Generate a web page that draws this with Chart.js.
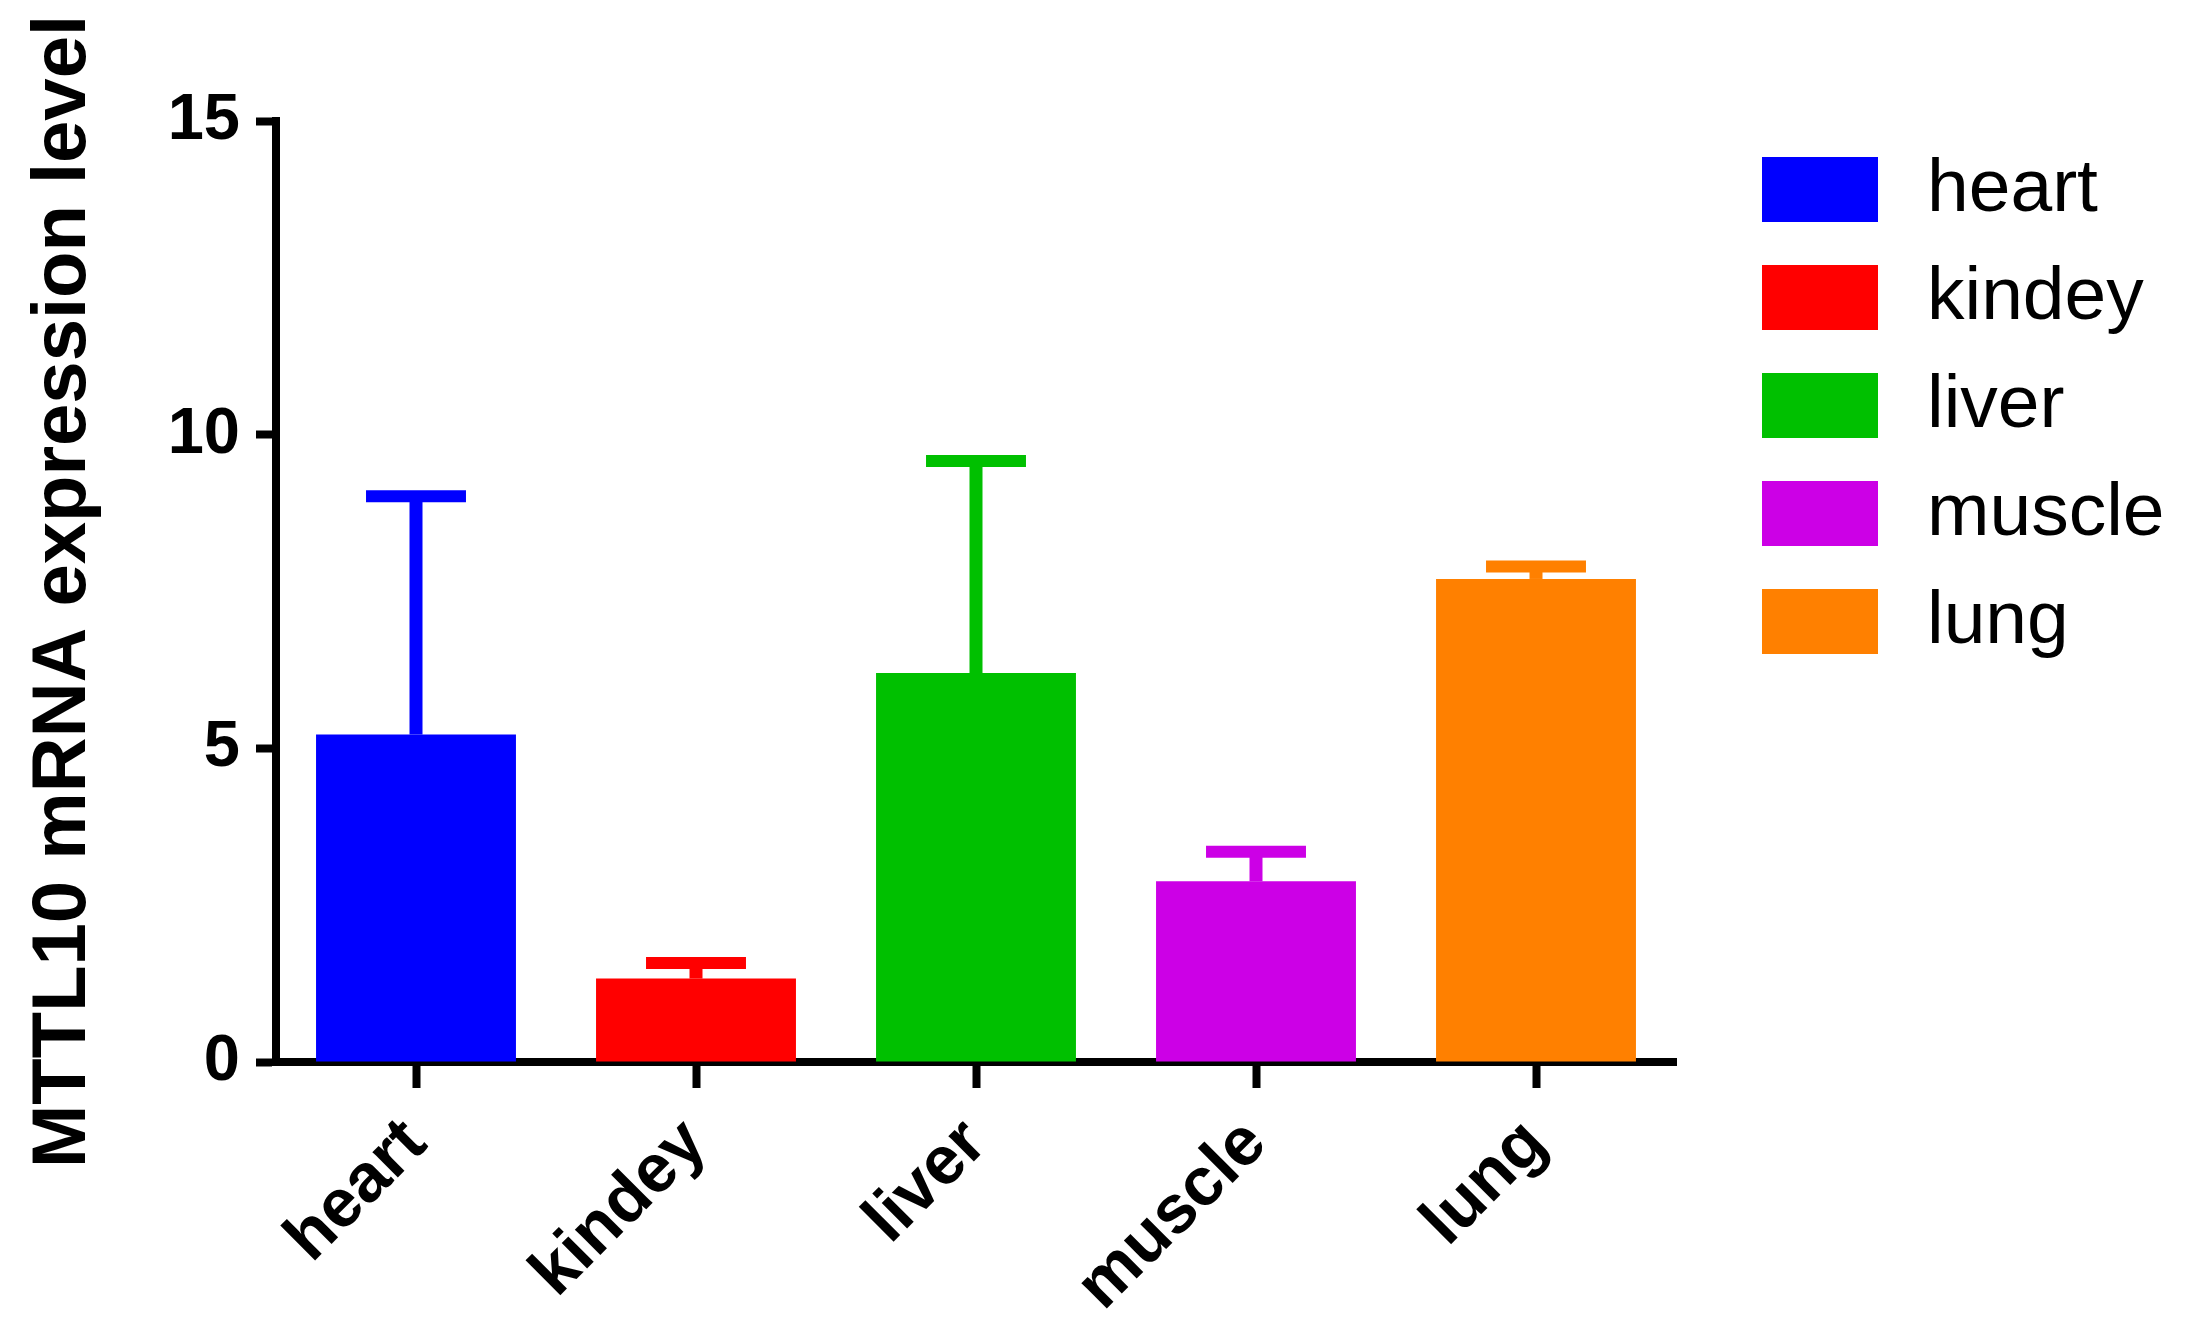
<!DOCTYPE html>
<html>
<head>
<meta charset="utf-8">
<script src="https://cdn.jsdelivr.net/npm/chart.js@4.4.1/dist/chart.umd.min.js"></script>
<style>
  html, body { margin: 0; padding: 0; background: #fff; }
  #wrap { width: 2185px; height: 1341px; }
</style>
</head>
<body>
<div id="wrap"><canvas id="canvas" width="2185" height="1341"></canvas></div>
<script>
// datos
const tejidos = ["heart", "kindey", "liver", "muscle", "lung"];
const expresion = [5.22, 1.33, 6.2, 2.88, 7.7];
const errorSup = [3.8, 0.25, 3.38, 0.47, 0.2];
const colores = ["#0000ff", "#ff0000", "#00c000", "#cc00e6", "#ff8000"];
const ticksY = [0, 5, 10, 15];

const fuente = "'Liberation Sans', Arial, sans-serif";

// barras de error (solo hacia arriba)
const barrasError = {
  id: "barrasError",
  afterDatasetsDraw(chart) {
    const ctx = chart.ctx;
    const meta = chart.getDatasetMeta(0);
    const y = chart.scales.y;
    ctx.save();
    meta.data.forEach((bar, i) => {
      const top = y.getPixelForValue(expresion[i] + errorSup[i]);
      const half = bar.width / 4;
      ctx.strokeStyle = colores[i];
      ctx.lineWidth = 13;
      ctx.beginPath();
      ctx.moveTo(bar.x, bar.y);
      ctx.lineTo(bar.x, top);
      ctx.stroke();
      ctx.lineWidth = 12;
      ctx.beginPath();
      ctx.moveTo(bar.x - half, top);
      ctx.lineTo(bar.x + half, top);
      ctx.stroke();
    });
    ctx.restore();
  },
};

// leyenda a la derecha
const leyenda = {
  id: "leyenda",
  afterDraw(chart) {
    const ctx = chart.ctx;
    ctx.save();
    ctx.font = "75px " + fuente;
    ctx.textBaseline = "middle";
    tejidos.forEach((t, i) => {
      const top = 157 + i * 108;
      ctx.fillStyle = colores[i];
      ctx.fillRect(1762, top, 116, 65);
      ctx.fillStyle = "#000";
      ctx.fillText(t, 1927, top + 33);
    });
    ctx.restore();
  },
};

const fondo = {
  id: "fondo",
  beforeDraw(chart) {
    const ctx = chart.ctx;
    ctx.save();
    ctx.fillStyle = "#fff";
    ctx.fillRect(0, 0, chart.width, chart.height);
    ctx.restore();
  },
};

const ctx = document.getElementById("canvas").getContext("2d");
window.myBar = new Chart(ctx, {
  type: "bar",
  data: {
    labels: tejidos,
    datasets: [
      {
        label: "MTTL10",
        data: expresion,
        backgroundColor: colores,
        borderWidth: 0,
        categoryPercentage: 1,
        barPercentage: 0.714,
      },
    ],
  },
  options: {
    responsive: false,
    animation: false,
    devicePixelRatio: 1,
    layout: { padding: { left: 0, top: 121, right: 509, bottom: 0 } },
    plugins: {
      legend: { display: false },
      tooltip: { enabled: false },
    },
    scales: {
      x: {
        offset: true,
        grid: {
          display: true,
          drawOnChartArea: false,
          offset: false,
          tickLength: 26,
          tickWidth: 8,
          tickColor: "#000",
        },
        border: { display: true, width: 8, color: "#000" },
        ticks: {
          color: "#000",
          font: { family: fuente, size: 68, weight: "bold" },
          minRotation: 45,
          maxRotation: 45,
          padding: 16,
        },
        afterFit: (s) => {
          s.height = 279;
        },
      },
      y: {
        min: 0,
        max: 15,
        afterBuildTicks: (s) => {
          s.ticks = ticksY.map((v) => ({ value: v }));
        },
        grid: {
          display: true,
          drawOnChartArea: false,
          tickLength: 20,
          tickWidth: 8,
          tickColor: "#000",
        },
        border: { display: true, width: 8, color: "#000" },
        ticks: {
          color: "#000",
          font: { family: fuente, size: 65, weight: "bold" },
          padding: 16,
        },
        title: {
          display: true,
          text: "MTTL10 mRNA expression level",
          color: "#000",
          font: { family: fuente, size: 76, weight: "bold" },
          padding: { top: 18, bottom: 0 },
        },
        afterFit: (s) => {
          s.width = 276;
        },
      },
    },
  },
  plugins: [fondo, barrasError, leyenda],
});
</script>
</body>
</html>
